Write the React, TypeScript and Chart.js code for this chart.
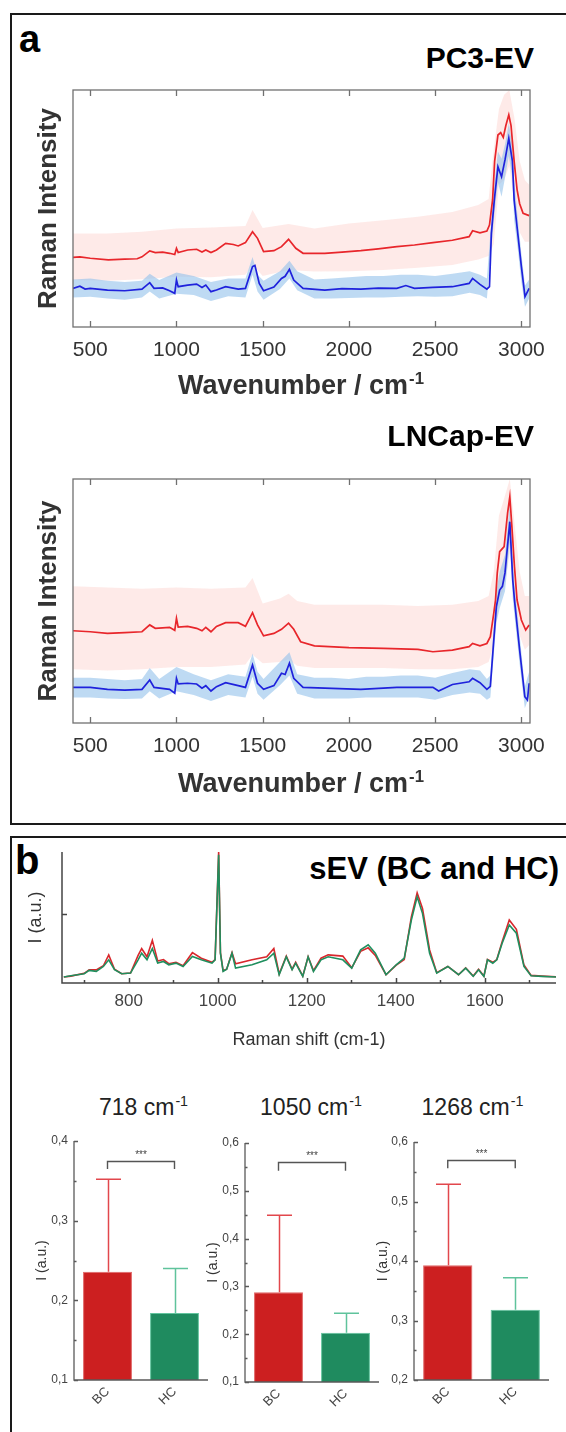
import React, { useEffect, useRef } from 'react';
import { Chart, registerables } from 'chart.js';

Chart.register(...registerables);

const FONT = "'Liberation Sans', Arial, Helvetica, sans-serif";
Chart.defaults.font.family = FONT;

// ---------------- Panel a data ----------------
const waveTicksA = [500, 1000, 1500, 2000, 2500, 3000];

// PC3-EV mean spectra [wavenumber, intensity]
const pc3Red: [number, number][] = [[400,29.4],[440,29.6],[500,29.0],[605,28.3],[700,28.6],[772,28.8],[800,29.6],[845,32.1],[877,31.4],[920,31.6],[960,31.1],[990,30.6],[1000,33.2],[1010,31.4],[1065,32.5],[1117,32.8],[1148,31.6],[1170,32.5],[1200,31.4],[1232,32.5],[1285,35.3],[1330,34.8],[1358,34.2],[1400,35.6],[1441,40.2],[1470,37.4],[1505,31.8],[1565,32.2],[1609,33.9],[1650,37.0],[1692,33.2],[1734,31.1],[1860,31.1],[1960,31.6],[2069,32.2],[2170,33.0],[2278,33.9],[2380,34.6],[2487,35.6],[2600,36.6],[2697,38.1],[2717,40.6],[2760,39.7],[2800,40.5],[2815,43],[2833,53.6],[2845,70],[2864,81],[2880,82],[2895,80],[2910,85],[2927,89.5],[2940,85],[2958,70],[2975,58],[2990,52],[3010,48],[3045,47]];
const pc3Blue: [number, number][] = [[400,16.3],[440,17.2],[470,16],[500,16.3],[600,15.6],[700,15.3],[800,16],[845,18.7],[870,16.3],[920,16.5],[960,15.3],[990,14.2],[1000,19.8],[1010,17],[1065,17.7],[1117,18.1],[1148,16.7],[1170,17.7],[1200,14.9],[1232,15.6],[1285,17],[1358,16],[1400,16.3],[1441,25.5],[1455,26],[1480,18.4],[1505,15.3],[1565,16.9],[1609,20.5],[1630,21.4],[1655,24.3],[1680,19.8],[1734,16.3],[1860,15.6],[1960,16.2],[2069,16],[2170,16.4],[2278,16.3],[2330,17.5],[2380,16.3],[2487,16.7],[2600,17],[2697,18.4],[2717,20.5],[2760,18],[2800,16],[2815,17],[2826,39.5],[2843,53.6],[2864,67.6],[2885,63.4],[2905,70.5],[2927,79.6],[2948,70],[2958,53.6],[2979,39.5],[3000,25.5],[3021,12.8],[3045,16.3]];
// bands [wavenumber, lower, upper]
const pc3PinkBand: [number, number, number][] = [[400,19.8,39.5],[600,19.5,39.5],[800,20.2,40.2],[1000,21.2,41.6],[1200,21.0,42.0],[1400,22.0,42.6],[1441,26.5,49.4],[1500,21.5,41.8],[1650,24.0,43.5],[1800,23.4,41.6],[2000,23.5,43.7],[2200,24.1,45.0],[2400,25.0,46.5],[2600,26.2,48.5],[2750,28.5,51.5],[2810,30,54],[2840,35,75],[2870,60,92],[2900,62,98],[2930,68,100],[2960,52,88],[2990,40,70],[3020,36,62],[3045,36,60]];
const pc3BlueBand: [number, number, number][] = [[400,12.5,20],[500,12.8,20.5],[600,12,19.5],[700,11.5,19],[800,12.5,19.5],[845,15,22.5],[900,12,19.8],[1000,14,23],[1100,13.5,21.5],[1200,11,19],[1300,13,20.5],[1400,12.5,20.5],[1441,22,29.5],[1470,15,22],[1505,11.5,19.5],[1600,16,23.5],[1655,20.5,28],[1700,15.5,23.5],[1800,12,20],[1900,12,20.5],[2000,12.2,21],[2100,12.5,21.5],[2200,12.5,21.5],[2300,12.8,22],[2400,13,22],[2500,12.8,21.5],[2600,13,22.5],[2700,14.5,23.5],[2760,13.5,22],[2800,12,20.5],[2826,33,45],[2843,47,60],[2864,61,74],[2885,55,71],[2905,63,77],[2927,72,86],[2948,63,77],[2958,45,62],[2979,33,46],[3000,19,31],[3021,8.5,17.5],[3045,12,20]];

// LNCap-EV
const lnRed: [number, number][] = [[400,37.8],[500,37.4],[600,36.7],[700,37],[800,37.4],[845,40.2],[877,38.8],[960,39.2],[990,38],[1000,42.9],[1010,39.3],[1065,39.6],[1117,38.8],[1148,37.8],[1170,39.2],[1200,37.4],[1232,39.6],[1285,41.1],[1358,41.1],[1400,39.6],[1441,45.2],[1470,40.2],[1505,35.7],[1565,36.7],[1609,38.4],[1650,40.9],[1680,38.4],[1720,33.3],[1800,31.6],[2000,30.9],[2200,30.6],[2400,30.2],[2487,29.2],[2600,29.9],[2697,31.3],[2717,32.6],[2760,31.6],[2800,32.6],[2820,35.4],[2840,45],[2850,50.4],[2860,61.4],[2874,70.2],[2900,72.3],[2920,86],[2933,92.7],[2945,80.5],[2960,64],[2975,50.4],[3000,42.2],[3025,38.1],[3045,40.2]];
const lnBlue: [number, number][] = [[400,14.6],[500,14.6],[600,13.8],[700,13.5],[800,13.8],[845,17.6],[870,14.6],[960,13.8],[990,12.2],[1000,18.3],[1010,16],[1065,16.3],[1117,16],[1148,14.3],[1170,15.3],[1200,13.1],[1232,14.9],[1285,16.5],[1358,15.3],[1400,14.6],[1441,23.8],[1470,16.3],[1505,13.8],[1565,15.3],[1609,20.4],[1630,19.9],[1655,24.5],[1680,18.3],[1734,14.6],[1860,14.3],[2069,13.8],[2278,14.6],[2487,14.6],[2520,13.1],[2600,15.8],[2697,16.9],[2717,18.3],[2760,16.5],[2800,13.8],[2820,15],[2840,34],[2855,47.7],[2874,54.5],[2890,56],[2905,61.5],[2933,82.5],[2950,58.6],[2960,50.4],[2990,29.9],[3020,10.8],[3035,9.4],[3045,16.3]];
const lnPinkBand: [number, number, number][] = [[400,22,56],[600,21.5,55.5],[800,22,55],[1000,23,55.5],[1200,23,55],[1400,24,55.5],[1441,28,59.4],[1500,24.5,49],[1600,25,51],[1650,26,53],[1700,23.5,50],[1800,22.5,48.5],[2000,22.5,48.5],[2200,22.5,48.5],[2400,22,48],[2600,22,48.5],[2750,23,50],[2810,25,52],[2840,32,62],[2870,50,85],[2900,55,92],[2933,70,100],[2960,50,82],[2990,36,62],[3020,30,52],[3045,32,52]];
const lnBlueBand: [number, number, number][] = [[400,10.5,18.5],[500,10.5,18.5],[600,10,18],[700,9.8,17.5],[800,10,18],[845,13,22.5],[900,10,18],[1000,13,23],[1100,11.5,20],[1200,9,17.5],[1300,11.5,20],[1400,10.5,19],[1441,19,28.5],[1470,12,21],[1505,9.5,18],[1600,15.5,25],[1655,19.5,29],[1700,12,20],[1800,10,18.5],[1900,10,18.5],[2000,10,18],[2100,10.5,19],[2200,10.5,19],[2300,10.5,19.5],[2400,10.5,19.5],[2500,9.5,18.5],[2600,11.5,20.5],[2700,12.5,22],[2760,12,21.5],[2800,9.5,18],[2820,10.5,19.5],[2840,28,40],[2855,41,54],[2874,47,62],[2905,54,69],[2933,74,90],[2950,51,66],[2960,44,57],[2990,24,36],[3020,6,15],[3045,11,21]];

// ---------------- Panel b data ----------------
const shiftMajorTicks = [800, 1000, 1200, 1400, 1600];
const shiftMinorTicks = [700, 900, 1100, 1300, 1500, 1700];
// [raman shift, HC (green), BC (red)]
const sevSpectra: [number, number, number][] = [[654,0.043,0.043],[670,0.053,0.05],[700,0.067,0.07],[711,0.091,0.095],[727,0.084,0.095],[743,0.12,0.125],[755,0.168,0.204],[768,0.096,0.1],[784,0.067,0.067],[804,0.072,0.072],[821,0.168,0.2],[829,0.216,0.25],[841,0.168,0.19],[853,0.25,0.31],[865,0.144,0.16],[878,0.156,0.17],[890,0.132,0.14],[906,0.144,0.15],[922,0.12,0.125],[943,0.192,0.22],[963,0.168,0.18],[987,0.144,0.15],[994,0.168,0.17],[1002,0.93,0.95],[1006,0.216,0.22],[1012,0.084,0.09],[1020,0.1,0.1],[1032,0.216,0.22],[1040,0.108,0.14],[1077,0.132,0.168],[1110,0.168,0.19],[1126,0.216,0.25],[1138,0.06,0.065],[1154,0.19,0.195],[1167,0.096,0.1],[1175,0.144,0.15],[1191,0.048,0.05],[1203,0.19,0.19],[1215,0.084,0.09],[1232,0.168,0.18],[1248,0.19,0.204],[1281,0.168,0.195],[1301,0.108,0.11],[1321,0.24,0.23],[1338,0.277,0.255],[1354,0.216,0.2],[1378,0.06,0.06],[1401,0.132,0.13],[1419,0.18,0.17],[1435,0.457,0.48],[1448,0.625,0.654],[1460,0.505,0.54],[1476,0.216,0.24],[1492,0.072,0.075],[1517,0.12,0.12],[1541,0.06,0.06],[1557,0.108,0.11],[1574,0.048,0.05],[1586,0.096,0.1],[1598,0.048,0.05],[1606,0.168,0.17],[1618,0.144,0.15],[1627,0.168,0.17],[1639,0.289,0.3],[1655,0.421,0.457],[1671,0.361,0.39],[1688,0.12,0.13],[1704,0.053,0.055],[1728,0.048,0.05],[1761,0.043,0.045]];

// Bar panels
const barGroups = ['BC', 'HC'];
const barTitles = ['718', '1050', '1268'];
const bcMeans = [0.236, 0.288, 0.393];
const hcMeans = [0.184, 0.203, 0.318];
const bcSd = [0.116, 0.161, 0.136];
const hcSd = [0.056, 0.041, 0.054];
const barYMin = [0.1, 0.1, 0.2];
const barYMax = [0.4, 0.6, 0.6];
const barMajorTicks = [[0.1, 0.2, 0.3, 0.4], [0.1, 0.2, 0.3, 0.4, 0.5, 0.6], [0.2, 0.3, 0.4, 0.5, 0.6]];
const barMinorTicks = [[0.15, 0.25, 0.35], [0.15, 0.25, 0.35, 0.45, 0.55], [0.25, 0.35, 0.45, 0.55]];
const bracketTop = [0.375, 0.561, 0.570];
const bracketLeg = [0.365, 0.542, 0.556];
const sigLabel = '***';

// ---------------- helpers ----------------
function ChartCanvas({ left, top, width, height, build }: any) {
  const ref = useRef<HTMLCanvasElement>(null);
  useEffect(() => {
    const chart = new Chart(ref.current as HTMLCanvasElement, build());
    return () => chart.destroy();
  }, []);
  return (
    <canvas
      ref={ref}
      width={width}
      height={height}
      style={{ position: 'absolute', left, top, width, height }}
    />
  );
}

const xy = (arr: [number, number][]) => arr.map(([x, y]) => ({ x, y }));
const lo = (arr: [number, number, number][]) => arr.map(([x, l]) => ({ x, y: l }));
const hi = (arr: [number, number, number][]) => arr.map(([x, , u]) => ({ x, y: u }));
const plain = (v: any) => String(v);

function boxTicksPlugin(ticks: number[]) {
  return {
    id: 'boxTicks',
    afterDatasetsDraw(chart: any) {
      const { ctx, chartArea: a, scales } = chart;
      ctx.save();
      ctx.strokeStyle = '#707070';
      ctx.lineWidth = 1.3;
      ctx.strokeRect(a.left, a.top, a.right - a.left, a.bottom - a.top);
      ctx.beginPath();
      ticks.forEach((v) => {
        const x = Math.round(scales.x.getPixelForValue(v)) + 0.5;
        ctx.moveTo(x, a.bottom);
        ctx.lineTo(x, a.bottom - 6);
        ctx.moveTo(x, a.top);
        ctx.lineTo(x, a.top + 6);
      });
      ctx.stroke();
      ctx.restore();
    },
  };
}

function panelAConfig(red: any, blue: any, blueBand: any, pinkBand: any, xAxisHeight: number) {
  const band = { borderWidth: 0, borderColor: 'rgba(0,0,0,0)', pointRadius: 0, tension: 0 };
  return {
    type: 'line',
    data: {
      datasets: [
        { data: xy(red), borderColor: '#e8262b', borderWidth: 1.7, pointRadius: 0, fill: false, tension: 0 },
        { data: xy(blue), borderColor: '#1f22dc', borderWidth: 1.7, pointRadius: 0, fill: false, tension: 0 },
        { data: lo(blueBand), ...band, fill: false },
        { data: hi(blueBand), ...band, fill: '-1', backgroundColor: 'rgba(150,196,236,0.62)' },
        { data: lo(pinkBand), ...band, fill: false },
        { data: hi(pinkBand), ...band, fill: '-1', backgroundColor: 'rgba(252,208,203,0.45)' },
      ],
    },
    options: {
      animation: false,
      responsive: false,
      maintainAspectRatio: false,
      layout: { padding: { top: 10, right: 30, left: 0, bottom: 0 } },
      plugins: { legend: { display: false }, tooltip: { enabled: false } },
      scales: {
        x: {
          type: 'linear',
          min: 400,
          max: 3050,
          grid: { display: false, drawTicks: false },
          border: { display: false },
          afterBuildTicks: (s: any) => {
            s.ticks = waveTicksA.map((v) => ({ value: v }));
          },
          ticks: { font: { size: 21 }, color: '#333', padding: 11, maxRotation: 0, autoSkip: false, callback: plain },
          afterFit: (s: any) => {
            s.height = xAxisHeight;
          },
        },
        y: {
          min: 0,
          max: 100,
          grid: { display: false, drawTicks: false },
          border: { display: false },
          ticks: { display: false },
          title: {
            display: true,
            text: 'Raman Intensity',
            font: { size: 26, weight: 'bold' },
            color: '#333',
            padding: { top: 13, bottom: 0 },
          },
          afterFit: (s: any) => {
            s.width = 53;
          },
        },
      },
    },
    plugins: [boxTicksPlugin(waveTicksA)],
  };
}

function sevAxesPlugin() {
  return {
    id: 'sevAxes',
    afterDatasetsDraw(chart: any) {
      const { ctx, chartArea: a, scales } = chart;
      ctx.save();
      ctx.strokeStyle = '#444';
      ctx.lineWidth = 1.5;
      ctx.beginPath();
      ctx.moveTo(a.left, a.top);
      ctx.lineTo(a.left, a.bottom);
      ctx.lineTo(a.right, a.bottom);
      shiftMajorTicks.forEach((v) => {
        const x = Math.round(scales.x.getPixelForValue(v)) + 0.5;
        ctx.moveTo(x, a.bottom);
        ctx.lineTo(x, a.bottom - 5);
      });
      shiftMinorTicks.forEach((v) => {
        const x = Math.round(scales.x.getPixelForValue(v)) + 0.5;
        ctx.moveTo(x, a.bottom);
        ctx.lineTo(x, a.bottom - 3);
      });
      const yy = Math.round(scales.y.getPixelForValue(0.5)) + 0.5;
      ctx.moveTo(a.left, yy);
      ctx.lineTo(a.left + 5, yy);
      ctx.stroke();
      ctx.restore();
    },
  };
}

function sevConfig() {
  return {
    type: 'line',
    data: {
      datasets: [
        { data: sevSpectra.map(([x, g]) => ({ x, y: g })), borderColor: '#1f8f5e', borderWidth: 1.6, pointRadius: 0, fill: false, tension: 0 },
        { data: sevSpectra.map(([x, , r]) => ({ x, y: r })), borderColor: '#d8272c', borderWidth: 1.6, pointRadius: 0, fill: false, tension: 0 },
      ],
    },
    options: {
      animation: false,
      responsive: false,
      maintainAspectRatio: false,
      layout: { padding: { top: 10, right: 10, left: 0, bottom: 0 } },
      plugins: { legend: { display: false }, tooltip: { enabled: false } },
      scales: {
        x: {
          type: 'linear',
          min: 650,
          max: 1760,
          grid: { display: false, drawTicks: false },
          border: { display: false },
          afterBuildTicks: (s: any) => {
            s.ticks = shiftMajorTicks.map((v) => ({ value: v }));
          },
          ticks: { font: { size: 17 }, color: '#444', padding: 8, maxRotation: 0, autoSkip: false, callback: plain },
          title: { display: true, text: 'Raman shift (cm-1)', font: { size: 18 }, color: '#333', padding: { top: 0, bottom: 1 } },
          afterFit: (s: any) => {
            s.height = 69;
          },
        },
        y: {
          min: 0,
          max: 0.95,
          grid: { display: false, drawTicks: false },
          border: { display: false },
          ticks: { display: false },
          title: { display: true, text: 'I (a.u.)', font: { size: 18 }, color: '#333', padding: { top: 15, bottom: 0 } },
          afterFit: (s: any) => {
            s.width = 52;
          },
        },
      },
    },
    plugins: [sevAxesPlugin()],
  };
}

function barExtrasPlugin(i: number) {
  return {
    id: 'barExtras',
    afterDatasetsDraw(chart: any) {
      const { ctx, chartArea: a, scales } = chart;
      const y = scales.y;
      const meta = chart.getDatasetMeta(0);
      ctx.save();
      // error bars
      const tops = [bcMeans[i] + bcSd[i], hcMeans[i] + hcSd[i]];
      const errColors = ['#e2474c', '#5fc39c'];
      meta.data.forEach((bar: any, k: number) => {
        const py = y.getPixelForValue(tops[k]);
        const x = Math.round(bar.x) + 0.5;
        ctx.strokeStyle = errColors[k];
        ctx.lineWidth = 1.5;
        ctx.beginPath();
        ctx.moveTo(x, bar.y);
        ctx.lineTo(x, py);
        ctx.moveTo(x - 12.5, py);
        ctx.lineTo(x + 12.5, py);
        ctx.stroke();
      });
      // axes
      ctx.strokeStyle = '#5a5a5a';
      ctx.lineWidth = 1.3;
      ctx.beginPath();
      ctx.moveTo(a.left, a.top);
      ctx.lineTo(a.left, a.bottom);
      ctx.lineTo(a.right, a.bottom);
      barMajorTicks[i].forEach((v) => {
        const py = Math.round(y.getPixelForValue(v)) + 0.5;
        ctx.moveTo(a.left, py);
        ctx.lineTo(a.left + 4, py);
      });
      barMinorTicks[i].forEach((v) => {
        const py = Math.round(y.getPixelForValue(v)) + 0.5;
        ctx.moveTo(a.left, py);
        ctx.lineTo(a.left + 2.5, py);
      });
      ctx.stroke();
      // significance bracket
      const x0 = meta.data[0].x;
      const x1 = meta.data[1].x;
      const bt = Math.round(y.getPixelForValue(bracketTop[i])) + 0.5;
      const bl = y.getPixelForValue(bracketLeg[i]);
      ctx.strokeStyle = '#555';
      ctx.lineWidth = 1.4;
      ctx.beginPath();
      ctx.moveTo(x0, bl);
      ctx.lineTo(x0, bt);
      ctx.lineTo(x1, bt);
      ctx.lineTo(x1, bl);
      ctx.stroke();
      ctx.fillStyle = '#444';
      ctx.font = `10px ${FONT}`;
      ctx.textAlign = 'center';
      ctx.textBaseline = 'alphabetic';
      ctx.fillText(sigLabel, (x0 + x1) / 2, bt - 4);
      ctx.restore();
    },
  };
}

const barGeom = [
  { left: 20, axisX: 74, right: 208, top: 1141, bottom: 1380, titleCx: 42.5 },
  { left: 190, axisX: 245, right: 379, top: 1143, bottom: 1382, titleCx: 213 },
  { left: 360, axisX: 414, right: 549, top: 1142, bottom: 1380, titleCx: 383.5 },
];
const BAR_CANVAS_TOP = 1125;
const BAR_CANVAS_H = 295;
const BAR_CANVAS_W = 200;

function barConfig(i: number) {
  const g = barGeom[i];
  return {
    type: 'bar',
    data: {
      labels: barGroups,
      datasets: [
        {
          data: [bcMeans[i], hcMeans[i]],
          backgroundColor: ['#cc1f20', '#1f8b5f'],
          borderColor: ['#e06565', '#62c49e'],
          borderWidth: 1,
          barPercentage: 0.73,
          categoryPercentage: 1,
        },
      ],
    },
    options: {
      animation: false,
      responsive: false,
      maintainAspectRatio: false,
      layout: { padding: { top: g.top - BAR_CANVAS_TOP, right: g.left + BAR_CANVAS_W - g.right, left: 0, bottom: 0 } },
      plugins: { legend: { display: false }, tooltip: { enabled: false } },
      scales: {
        x: {
          grid: { display: false, drawTicks: false },
          border: { display: false },
          ticks: { font: { size: 13 }, color: '#444', padding: 4, minRotation: 45, maxRotation: 45 },
          afterFit: (s: any) => {
            s.height = BAR_CANVAS_TOP + BAR_CANVAS_H - g.bottom;
          },
        },
        y: {
          min: barYMin[i],
          max: barYMax[i],
          grid: { display: false, drawTicks: false },
          border: { display: false },
          afterBuildTicks: (s: any) => {
            s.ticks = barMajorTicks[i].map((v) => ({ value: v }));
          },
          ticks: {
            font: { size: 12 },
            color: '#444',
            padding: 6,
            callback: (v: any) => Number(v).toFixed(1).replace('.', ','),
          },
          title: {
            display: true,
            text: 'I (a.u.)',
            font: { size: 14 },
            color: '#333',
            padding: { top: g.titleCx - g.left - 8.4, bottom: 0 },
          },
          afterFit: (s: any) => {
            s.width = g.axisX - g.left;
          },
        },
      },
    },
    plugins: [barExtrasPlugin(i)],
  };
}

const Sup = ({ children }: any) => (
  <span style={{ fontSize: '0.62em', position: 'relative', top: '-0.62em', marginLeft: 1 }}>{children}</span>
);

const abs = (extra: any) => ({ position: 'absolute', whiteSpace: 'nowrap', lineHeight: 1, ...extra });

export default function App() {
  return (
    <div
      style={{
        position: 'absolute',
        left: 0,
        top: 0,
        width: 566,
        height: 1432,
        overflow: 'hidden',
        background: '#fff',
        fontFamily: FONT,
        color: '#000',
      }}
    >
      {/* panel frames */}
      <div style={{ position: 'absolute', left: 10, top: 13, width: 600, height: 812, border: '2px solid #1a1a1a', boxSizing: 'border-box' }} />
      <div style={{ position: 'absolute', left: 10, top: 836, width: 600, height: 700, border: '2px solid #1a1a1a', boxSizing: 'border-box' }} />

      {/* panel a */}
      <div style={abs({ left: 19, top: 20, fontSize: 38, fontWeight: 'bold' })}>a</div>
      <div style={abs({ right: 32, top: 43, fontSize: 30, fontWeight: 'bold' })}>PC3-EV</div>
      <ChartCanvas left={20} top={80} width={540} height={300} build={() => panelAConfig(pc3Red, pc3Blue, pc3BlueBand, pc3PinkBand, 53)} />
      <div style={abs({ left: 101, width: 400, textAlign: 'center', top: 372, fontSize: 27, fontWeight: 'bold', color: '#333' })}>
        Wavenumber / cm<Sup>-1</Sup>
      </div>

      <div style={abs({ right: 32, top: 421, fontSize: 30, fontWeight: 'bold' })}>LNCap-EV</div>
      <ChartCanvas left={20} top={469} width={540} height={300} build={() => panelAConfig(lnRed, lnBlue, lnBlueBand, lnPinkBand, 46)} />
      <div style={abs({ left: 101, width: 400, textAlign: 'center', top: 770, fontSize: 27, fontWeight: 'bold', color: '#333' })}>
        Wavenumber / cm<Sup>-1</Sup>
      </div>

      {/* panel b */}
      <div style={abs({ left: 15, top: 840, fontSize: 40, fontWeight: 'bold' })}>b</div>
      <div style={abs({ right: 7, top: 853, fontSize: 31, fontWeight: 'bold' })}>sEV (BC and HC)</div>
      <ChartCanvas left={10} top={842} width={556} height={210} build={sevConfig} />

      {barTitles.map((t, i) => (
        <div
          key={t}
          style={abs({ left: [143.5, 311, 472.5][i] - 100, width: 200, textAlign: 'center', top: 1096, fontSize: 23, color: '#222' })}
        >
          {t} cm<Sup>-1</Sup>
        </div>
      ))}
      {barGeom.map((g, i) => (
        <ChartCanvas key={i} left={g.left} top={BAR_CANVAS_TOP} width={BAR_CANVAS_W} height={BAR_CANVAS_H} build={() => barConfig(i)} />
      ))}
    </div>
  );
}
